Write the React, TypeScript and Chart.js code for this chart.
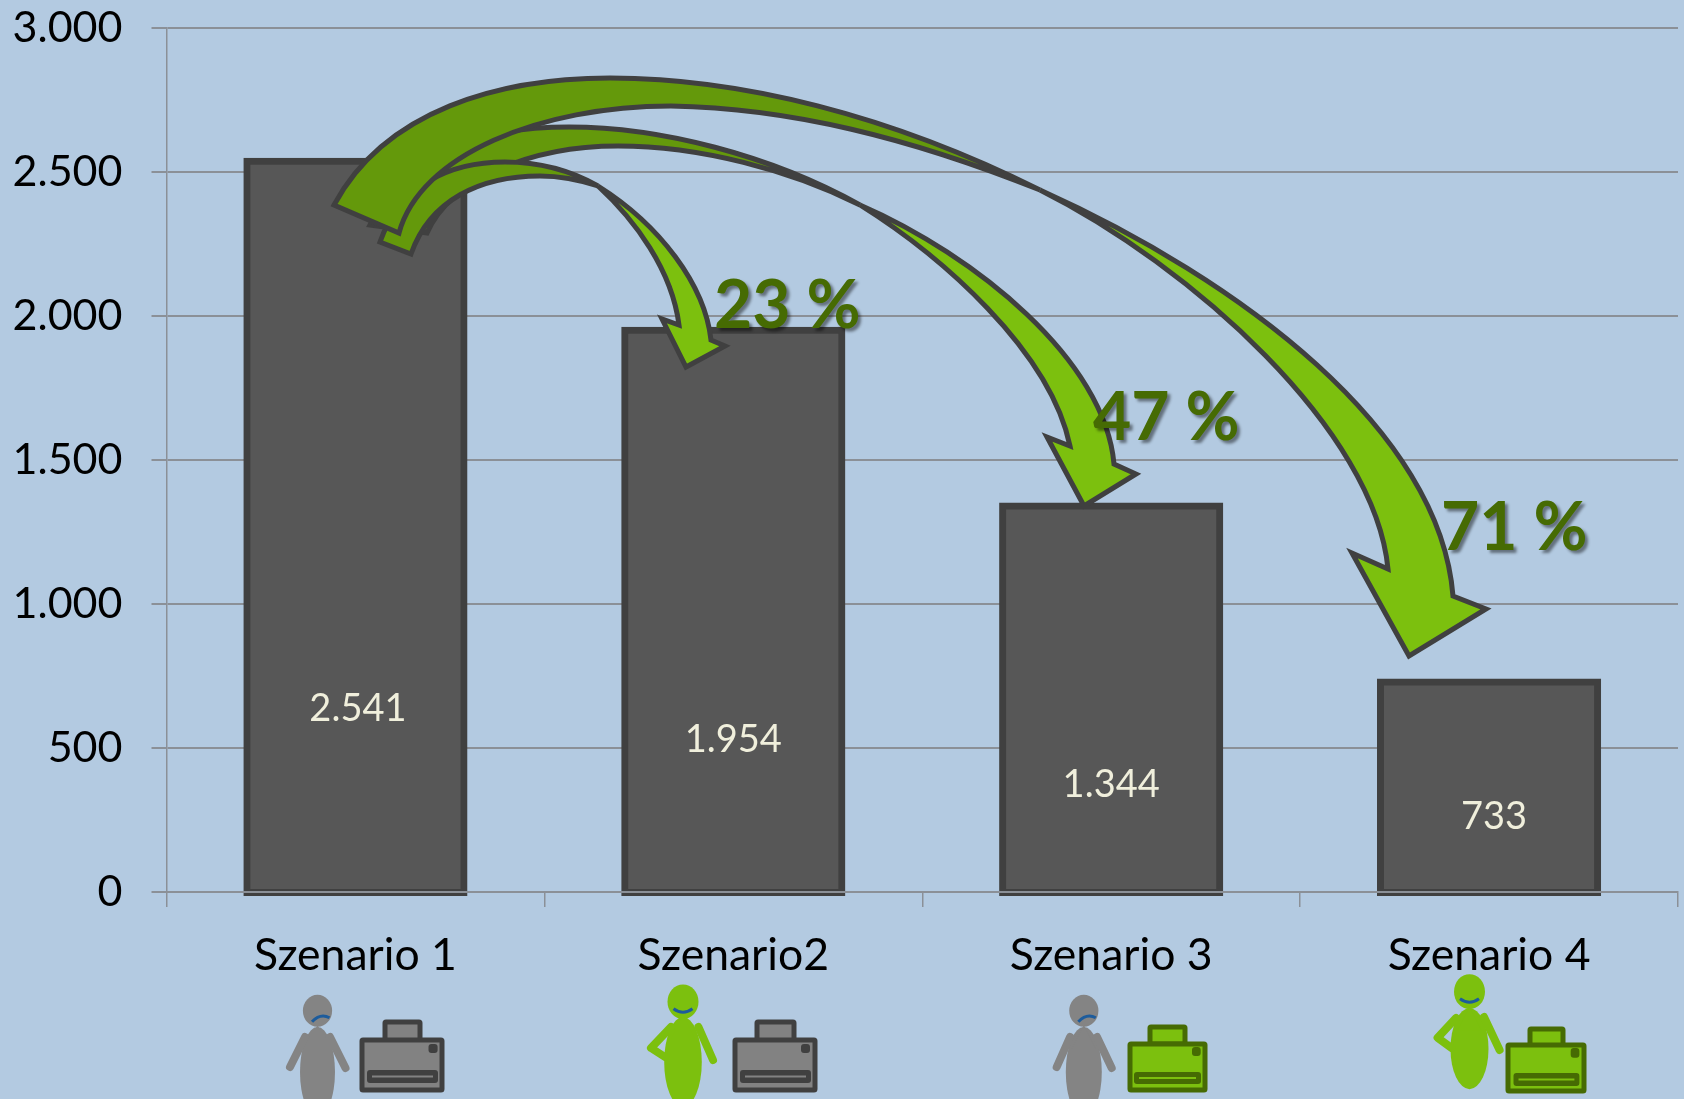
import React, { useEffect, useRef } from "react";
import { Chart, registerables } from "chart.js";

Chart.register(...registerables);

const categories = ["Szenario 1", "Szenario2", "Szenario 3", "Szenario 4"];
const costs = [2541, 1954, 1344, 733];
const savings = ["23 %", "47 %", "71 %"];
const yTickStep = 500;
const yMax = 3000;

const BG = "#b3cae1";
const GRID = "#8b9097";
const BAR_FILL = "#575757";
const BAR_EDGE = "#404040";
const LIME = "#7cc00e";
const OLIVE = "#64990b";
const DEEP = "#466b03";
const GREY = "#848484";
const MOUTH = "#1d5c9c";
const TEXT_FONT = "Lato";

const fmt = (v: number) => String(v).replace(/\B(?=(\d{3})+$)/g, ".");

// annotation geometry (overlay artwork, not data)
const VALUE_LABEL_LAYOUT = [
  { dx: 2.5, y: 709 },
  { dx: 0, y: 740 },
  { dx: 0, y: 785 },
  { dx: 5, y: 817 },
];
const SAVING_LABEL_LAYOUT = [
  { x: 714, y: 307 },
  { x: 1093, y: 419 },
  { x: 1441, y: 529 },
];

type Pt = number[];
type ArrowShape = {
  pinch: Pt;
  tailOuter: Pt;
  tailInner: Pt;
  outerBack: Pt[];
  innerBack: Pt[];
  outerFront: Pt[];
  innerFront: Pt[];
  head: Pt[];
};

const ARROW_23: ArrowShape = {
  pinch: [598, 186],
  tailOuter: [380, 242],
  tailInner: [411, 254],
  outerBack: [[400, 185], [450, 162], [505, 162], [540, 162], [570, 170], [598, 186]],
  innerBack: [[430, 200], [480, 176], [540, 176], [560, 176], [580, 180], [598, 186]],
  outerFront: [[660, 225], [705, 285], [711, 340]],
  innerFront: [[635, 220], [672, 270], [679, 325]],
  head: [[725, 346], [686, 367], [662, 319]],
};
const ARROW_47: ArrowShape = {
  pinch: [860, 205],
  tailOuter: [370, 225],
  tailInner: [427, 233],
  outerBack: [[410, 150], [480, 127], [569, 127], [660, 127], [770, 155], [860, 205]],
  innerBack: [[450, 180], [530, 146], [618, 146], [700, 146], [790, 170], [860, 205]],
  outerFront: [[975, 255], [1105, 360], [1114, 464]],
  innerFront: [[940, 255], [1050, 350], [1070, 446]],
  head: [[1136, 474], [1084, 506], [1047, 437]],
};
const ARROW_71: ArrowShape = {
  pinch: [1040, 190],
  tailOuter: [334, 205],
  tailInner: [399, 233],
  outerBack: [[385, 110], [500, 78], [610, 78], [740, 78], [890, 115], [1040, 190]],
  innerBack: [[420, 155], [540, 106], [671, 106], [790, 108], [910, 138], [1040, 190]],
  outerFront: [[1240, 280], [1440, 430], [1453, 596]],
  innerFront: [[1190, 265], [1375, 430], [1388, 569]],
  head: [[1486, 609], [1409, 656], [1352, 553]],
};
const ARROWS = [ARROW_47, ARROW_23, ARROW_71];

type Person = {
  x: number; headY: number; headRx: number; headRy: number;
  bodyY: number; bodyRx: number; bodyRy: number;
  color: string; happy: boolean; arms: Pt[][];
};
const PEOPLE: Person[] = [
  { x: 317.5, headY: 1010.7, headRx: 14.6, headRy: 16, bodyY: 1072, bodyRx: 17.5, bodyRy: 45, color: GREY, happy: false,
    arms: [[[305, 1037], [290, 1067]], [[330, 1037], [345.5, 1068]]] },
  { x: 683, headY: 1001.7, headRx: 15.5, headRy: 17.3, bodyY: 1062, bodyRx: 18.8, bodyRy: 45, color: LIME, happy: true,
    arms: [[[698.5, 1027], [713, 1060]], [[671, 1027], [651, 1048], [665, 1057]]] },
  { x: 1083.8, headY: 1010.7, headRx: 14.6, headRy: 16, bodyY: 1072, bodyRx: 18, bodyRy: 45, color: GREY, happy: false,
    arms: [[[1070, 1037], [1056.7, 1067]], [[1097, 1037], [1111.7, 1068]]] },
  { x: 1469.5, headY: 991.7, headRx: 15.5, headRy: 17.5, bodyY: 1048.7, bodyRx: 19, bodyRy: 40.5, color: LIME, happy: true,
    arms: [[[1484, 1017], [1499.6, 1050]], [[1456, 1018], [1437.6, 1037.7], [1451.6, 1048]]] },
];

type Printer = {
  box: number[]; paper: number[]; slot: number[]; button: number[];
  fill: string; edge: string;
};
const PRINTERS: Printer[] = [
  { box: [362, 1040, 442, 1090], paper: [385, 1022, 420, 1041], slot: [367, 1070, 438, 1083], button: [428.5, 1044, 437.6, 1053], fill: "#828282", edge: BAR_EDGE },
  { box: [735, 1040, 815, 1090], paper: [757, 1022, 794, 1041], slot: [740, 1070, 811, 1083], button: [801, 1044, 810, 1053], fill: "#828282", edge: BAR_EDGE },
  { box: [1130, 1044, 1205, 1090], paper: [1150, 1027, 1185, 1044], slot: [1134, 1072, 1201, 1084], button: [1192, 1047, 1200.7, 1056], fill: LIME, edge: DEEP },
  { box: [1508, 1045, 1584, 1091], paper: [1530, 1029, 1563, 1046], slot: [1513.5, 1073, 1579.4, 1086], button: [1570.7, 1048, 1579.4, 1057.7], fill: LIME, edge: DEEP },
];

function curve(ctx: CanvasRenderingContext2D, pts: Pt[]) {
  for (let i = 0; i + 2 < pts.length; i += 3) {
    ctx.bezierCurveTo(pts[i][0], pts[i][1], pts[i + 1][0], pts[i + 1][1], pts[i + 2][0], pts[i + 2][1]);
  }
}
function curveBack(ctx: CanvasRenderingContext2D, start: Pt, pts: Pt[]) {
  const all = [start, ...pts].reverse();
  curve(ctx, all.slice(1));
}

function drawArrow(ctx: CanvasRenderingContext2D, a: ArrowShape) {
  ctx.lineWidth = 5;
  ctx.strokeStyle = BAR_EDGE;
  ctx.lineJoin = "miter";
  ctx.miterLimit = 6;
  // rear part of the ribbon
  ctx.beginPath();
  ctx.moveTo(a.tailOuter[0], a.tailOuter[1]);
  curve(ctx, a.outerBack);
  curveBack(ctx, a.tailInner, a.innerBack);
  ctx.closePath();
  ctx.fillStyle = OLIVE;
  ctx.fill();
  ctx.stroke();
  // front part with the head
  const innerEnd = a.innerFront[a.innerFront.length - 1];
  ctx.beginPath();
  ctx.moveTo(a.pinch[0], a.pinch[1]);
  curve(ctx, a.outerFront);
  a.head.forEach((p) => ctx.lineTo(p[0], p[1]));
  ctx.lineTo(innerEnd[0], innerEnd[1]);
  curveBack(ctx, a.pinch, a.innerFront);
  ctx.closePath();
  ctx.fillStyle = LIME;
  ctx.fill();
  ctx.stroke();
}

function rr(ctx: CanvasRenderingContext2D, b: number[], r: number) {
  ctx.beginPath();
  ctx.roundRect(b[0], b[1], b[2] - b[0], b[3] - b[1], r);
}

function drawPrinter(ctx: CanvasRenderingContext2D, p: Printer) {
  ctx.lineJoin = "round";
  ctx.lineWidth = 5;
  ctx.strokeStyle = p.edge;
  ctx.fillStyle = p.fill;
  rr(ctx, p.paper, 1);
  ctx.fill();
  ctx.stroke();
  rr(ctx, p.box, 1);
  ctx.fill();
  ctx.stroke();
  ctx.fillStyle = p.edge;
  rr(ctx, p.slot, 3);
  ctx.fill();
  rr(ctx, p.button, 3);
  ctx.fill();
  ctx.strokeStyle = p.fill;
  ctx.lineWidth = 2;
  ctx.beginPath();
  const midY = (p.slot[1] + p.slot[3]) / 2;
  ctx.moveTo(p.slot[0] + 5, midY);
  ctx.lineTo(p.slot[2] - 5, midY);
  ctx.stroke();
}

function drawPerson(ctx: CanvasRenderingContext2D, p: Person) {
  ctx.fillStyle = p.color;
  ctx.strokeStyle = p.color;
  ctx.beginPath();
  ctx.ellipse(p.x, p.headY, p.headRx, p.headRy, 0, 0, Math.PI * 2);
  ctx.fill();
  ctx.beginPath();
  ctx.ellipse(p.x, p.bodyY, p.bodyRx, p.bodyRy, 0, 0, Math.PI * 2);
  ctx.fill();
  ctx.lineWidth = 8;
  ctx.lineCap = "round";
  ctx.lineJoin = "round";
  p.arms.forEach((arm) => {
    ctx.beginPath();
    ctx.moveTo(arm[0][0], arm[0][1]);
    arm.slice(1).forEach((q) => ctx.lineTo(q[0], q[1]));
    ctx.stroke();
  });
  // shoulders
  ctx.beginPath();
  ctx.moveTo(p.x - 12, p.bodyY - p.bodyRy + 22);
  ctx.lineTo(p.x, p.bodyY - p.bodyRy - 2);
  ctx.lineTo(p.x + 12, p.bodyY - p.bodyRy + 22);
  ctx.closePath();
  ctx.fill();
  // mouth
  ctx.strokeStyle = MOUTH;
  ctx.lineWidth = 3;
  ctx.lineCap = "butt";
  ctx.beginPath();
  if (p.happy) {
    ctx.moveTo(p.x - 9.5, p.headY + 7);
    ctx.quadraticCurveTo(p.x, p.headY + 14, p.x + 9.5, p.headY + 7);
  } else {
    ctx.moveTo(p.x - 5.5, p.headY + 11);
    ctx.quadraticCurveTo(p.x + 3, p.headY + 2, p.x + 12, p.headY + 7);
  }
  ctx.stroke();
  ctx.lineCap = "butt";
}

const overlayPlugin = {
  id: "overlay",
  afterDatasetsDraw(chart: any) {
    const ctx: CanvasRenderingContext2D = chart.ctx;
    const meta = chart.getDatasetMeta(0);
    ctx.save();
    // values inside the bars
    ctx.fillStyle = "#f0efdc";
    ctx.font = `38px ${TEXT_FONT}`;
    ctx.textAlign = "center";
    ctx.textBaseline = "middle";
    costs.forEach((v, i) => {
      const l = VALUE_LABEL_LAYOUT[i];
      ctx.fillText(fmt(v), meta.data[i].x + l.dx, l.y);
    });
    ARROWS.forEach((a) => drawArrow(ctx, a));
    // percentage savings
    ctx.font = `bold 66px ${TEXT_FONT}`;
    ctx.textAlign = "left";
    ctx.fillStyle = DEEP;
    ctx.shadowColor = "rgba(0,0,0,0.45)";
    ctx.shadowOffsetX = 3;
    ctx.shadowOffsetY = 3;
    ctx.shadowBlur = 3;
    savings.forEach((s, i) => {
      const l = SAVING_LABEL_LAYOUT[i];
      ctx.fillText(s, l.x, l.y);
    });
    ctx.shadowColor = "transparent";
    ctx.shadowOffsetX = 0;
    ctx.shadowOffsetY = 0;
    ctx.shadowBlur = 0;
    PEOPLE.forEach((p) => drawPerson(ctx, p));
    PRINTERS.forEach((p) => drawPrinter(ctx, p));
    ctx.restore();
  },
};

export default function App() {
  const ref = useRef<HTMLCanvasElement>(null);
  useEffect(() => {
    const chart = new Chart(ref.current!, {
      type: "bar",
      data: {
        labels: categories,
        datasets: [
          {
            data: costs,
            backgroundColor: BAR_FILL,
            borderColor: BAR_EDGE,
            borderWidth: 7,
            borderSkipped: false,
            borderRadius: 0,
            inflateAmount: 2.5,
            barPercentage: 0.58,
            categoryPercentage: 1,
            base: -5,
            clip: false,
          } as any,
        ],
      },
      options: {
        responsive: false,
        animation: false,
        devicePixelRatio: 1,
        layout: { padding: { top: 28, right: 6, left: 0, bottom: 0 } },
        plugins: { legend: { display: false }, tooltip: { enabled: false }, title: { display: false } },
        scales: {
          x: {
            offset: true,
            grid: { display: true, drawOnChartArea: false, drawTicks: true, tickLength: 15, color: GRID, lineWidth: 1.5, offset: true, z: 1 },
            border: { display: true, color: GRID, width: 2, z: 1 },
            ticks: { color: "#000", font: { family: TEXT_FONT, size: 44.5 }, padding: 22, maxRotation: 0, autoSkip: false },
            afterFit: (s: any) => { s.height = 207; },
          },
          y: {
            min: 0,
            max: yMax,
            grid: { color: GRID, lineWidth: 2, tickLength: 15 },
            border: { display: true, color: GRID, width: 1.5 },
            ticks: {
              stepSize: yTickStep,
              color: "#000",
              font: { family: TEXT_FONT, size: 43 },
              padding: 29,
              callback: (v: any) => fmt(Number(v)),
            },
            afterFit: (s: any) => { s.width = 166.5; s.paddingTop = 0; s.paddingBottom = 0; },
          },
        },
      },
      plugins: [overlayPlugin],
    } as any);
    return () => chart.destroy();
  }, []);
  return (
    <div style={{ position: "fixed", left: 0, top: 0, width: 1684, height: 1099, background: BG, overflow: "hidden" }}>
      <canvas ref={ref} width={1684} height={1099} style={{ display: "block" }} />
    </div>
  );
}
